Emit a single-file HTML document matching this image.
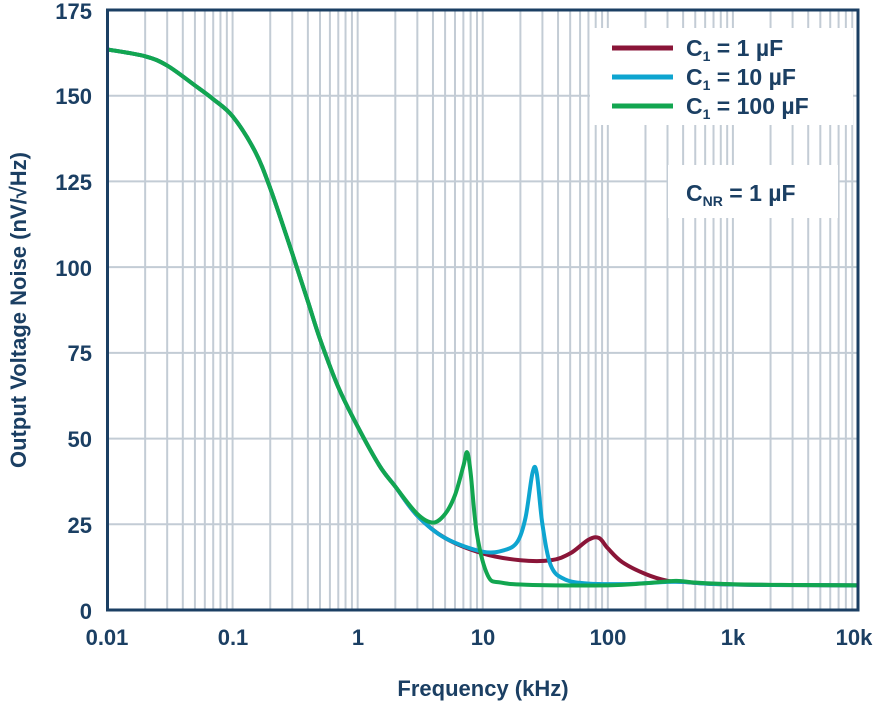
<!DOCTYPE html>
<html><head><meta charset="utf-8"><style>
html,body{margin:0;padding:0;background:#fff;width:885px;height:705px;overflow:hidden}
svg{display:block}
text{font-family:"Liberation Sans",Arial,sans-serif;font-weight:bold;fill:#1b3f63}
</style></head><body>
<svg id="s" width="885" height="705" xmlns="http://www.w3.org/2000/svg">
<g id="grid"></g>
<rect x="590" y="28" width="263" height="97" fill="#fff"/>
<rect x="668" y="165" width="170" height="53" fill="#fff"/>
<g id="curves"></g>
<rect x="107.5" y="10" width="750.5" height="600" fill="none" stroke="#1b3f63" stroke-width="3"/>
<g font-size="22" text-anchor="end">
<text x="92" y="619">0</text><text x="92" y="533">25</text><text x="92" y="447">50</text>
<text x="92" y="361">75</text><text x="92" y="276">100</text><text x="92" y="190">125</text>
<text x="92" y="104">150</text><text x="92" y="19">175</text>
</g>
<g font-size="22" text-anchor="middle">
<text x="107" y="645">0.01</text><text x="233" y="645">0.1</text><text x="358" y="645">1</text>
<text x="483" y="645">10</text><text x="608" y="645">100</text><text x="733" y="645">1k</text><text x="854" y="645">10k</text>
<text x="483" y="696">Frequency (kHz)</text>
</g>
<text transform="translate(26,310) rotate(-90)" font-size="22" text-anchor="middle">Output Voltage Noise (nV/√Hz)</text>
<line x1="612" y1="48" x2="673" y2="48" stroke="#8a1538" stroke-width="5"/>
<line x1="612" y1="77" x2="673" y2="77" stroke="#0ea5d0" stroke-width="5"/>
<line x1="612" y1="106" x2="673" y2="106" stroke="#12a650" stroke-width="5"/>
<g font-size="23">
<text x="686" y="56">C<tspan font-size="14" dy="5">1</tspan><tspan dy="-5"> = 1 µF</tspan></text>
<text x="686" y="85">C<tspan font-size="14" dy="5">1</tspan><tspan dy="-5"> = 10 µF</tspan></text>
<text x="686" y="114">C<tspan font-size="14" dy="5">1</tspan><tspan dy="-5"> = 100 µF</tspan></text>
<text x="686" y="201">C<tspan font-size="14" dy="5">NR</tspan><tspan dy="-5"> = 1 µF</tspan></text>
</g>
</svg>
<script>
var X=function(f){return 107.5+(Math.log10(f)+2)*125.08};
var Y=function(v){return 610-v*600/175};
var g='';
for(var d=-2;d<4;d++)for(var k=2;k<=10;k++){var x=X(k*Math.pow(10,d));if(x<857)g+='<line x1="'+x+'" y1="10" x2="'+x+'" y2="610" stroke="#c3ccd5" stroke-width="2"/>';}
for(var v=25;v<175;v+=25)g+='<line x1="107" y1="'+Y(v)+'" x2="858" y2="'+Y(v)+'" stroke="#c3ccd5" stroke-width="2"/>';
document.getElementById('grid').innerHTML=g;
var base=[[0.01,163.5],[0.02,161.5],[0.03,158.8],[0.05,153],[0.07,149],[0.1,144],[0.15,134],[0.2,123],[0.3,104],[0.4,90],[0.5,79],[0.7,65],[1,53.5],[1.5,42],[2,36]];
function path(pts){var p=pts.map(function(a){return[X(a[0]),Y(a[1])]});var s='M'+p[0][0]+','+p[0][1];
for(var i=0;i<p.length-1;i++){var p0=p[Math.max(0,i-1)],p1=p[i],p2=p[i+1],p3=p[Math.min(p.length-1,i+2)];
s+=' C'+(p1[0]+(p2[0]-p0[0])/6)+','+(p1[1]+(p2[1]-p0[1])/6)+' '+(p2[0]-(p3[0]-p1[0])/6)+','+(p2[1]-(p3[1]-p1[1])/6)+' '+p2[0]+','+p2[1];}return s;}
var red=base.concat([[3,27.5],[5,21],[10,16.5],[20,14.5],[35,14.5],[50,16.5],[70,20.5],[85,21],[100,18],[130,14],[200,10.5],[300,8.5],[400,8.2],[700,7.6],[2000,7.3],[10000,7.2]]);
var blue=base.concat([[3,27.5],[5,21],[10,17],[15,17.5],[19,20],[22,27],[25,40],[27,40],[30,25],[35,13],[45,9],[70,7.7],[150,7.6],[300,8.2],[400,8.2],[700,7.6],[2000,7.3],[10000,7.2]]);
var green=base.concat([[3,28],[4,25.5],[5,28],[6,33.5],[7,42],[7.5,46],[8,40],[9,22],[11,10],[14,8],[25,7.3],[100,7.2],[200,7.8],[350,8.5],[500,8],[1000,7.5],[3000,7.3],[10000,7.2]]);
document.getElementById('curves').innerHTML=
'<path d="'+path(red)+'" fill="none" stroke="#8a1538" stroke-width="4"/>'+
'<path d="'+path(blue)+'" fill="none" stroke="#0ea5d0" stroke-width="4"/>'+
'<path d="'+path(green)+'" fill="none" stroke="#12a650" stroke-width="4"/>';
</script>
</body></html>
